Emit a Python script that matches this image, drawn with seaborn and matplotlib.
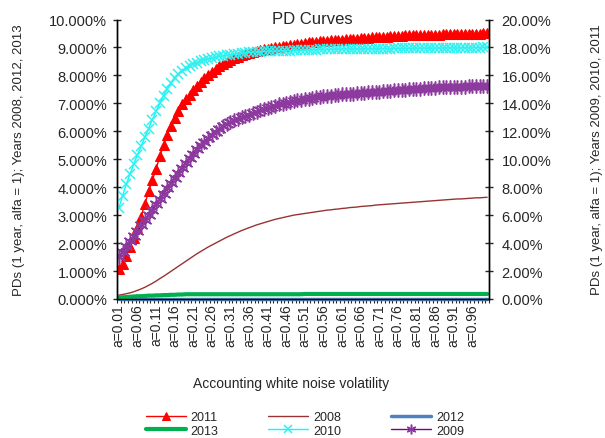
import numpy as np
import matplotlib
matplotlib.use("Agg")
import matplotlib.pyplot as plt
import seaborn as sns
from matplotlib.ticker import PercentFormatter, FixedLocator

sns.set_style("white")
plt.rcParams["font.family"] = ["Liberation Sans", "DejaVu Sans"]

# categories a=0.01 ... a=1.00
categories = ["a=%.2f" % (k / 100) for k in range(1, 101)]

# left axis series (percent)
pd_2008 = [
    0.14, 0.16, 0.19, 0.22, 0.26, 0.31, 0.36, 0.42, 0.49, 0.56,
    0.64, 0.73, 0.81, 0.90, 0.99, 1.08, 1.17, 1.26, 1.35, 1.44,
    1.53, 1.62, 1.70, 1.78, 1.86, 1.93, 2.00, 2.07, 2.14, 2.21,
    2.27, 2.33, 2.39, 2.45, 2.50, 2.55, 2.60, 2.65, 2.69, 2.73,
    2.77, 2.81, 2.85, 2.88, 2.91, 2.94, 2.97, 3.00, 3.02, 3.04,
    3.06, 3.08, 3.10, 3.12, 3.14, 3.16, 3.18, 3.19, 3.21, 3.22,
    3.24, 3.25, 3.27, 3.28, 3.29, 3.31, 3.32, 3.33, 3.34, 3.36,
    3.37, 3.38, 3.39, 3.40, 3.41, 3.42, 3.43, 3.44, 3.45, 3.46,
    3.47, 3.48, 3.49, 3.50, 3.51, 3.52, 3.53, 3.54, 3.55, 3.56,
    3.57, 3.58, 3.58, 3.59, 3.60, 3.61, 3.62, 3.62, 3.63, 3.64,
]
pd_2012 = [
    0.00, 0.00, 0.00, 0.00, 0.00, 0.00, 0.00, 0.00, 0.00, 0.00,
    0.00, 0.00, 0.00, 0.00, 0.00, 0.00, 0.00, 0.00, 0.00, 0.00,
    0.00, 0.00, 0.00, 0.00, 0.00, 0.00, 0.00, 0.00, 0.00, 0.00,
    0.00, 0.00, 0.00, 0.00, 0.00, 0.00, 0.00, 0.00, 0.00, 0.00,
    0.00, 0.00, 0.00, 0.00, 0.00, 0.00, 0.00, 0.00, 0.00, 0.00,
    0.00, 0.00, 0.00, 0.00, 0.00, 0.00, 0.00, 0.00, 0.00, 0.00,
    0.00, 0.00, 0.00, 0.00, 0.00, 0.00, 0.00, 0.00, 0.00, 0.00,
    0.00, 0.00, 0.00, 0.00, 0.00, 0.00, 0.00, 0.00, 0.00, 0.00,
    0.00, 0.00, 0.00, 0.00, 0.00, 0.00, 0.00, 0.00, 0.00, 0.00,
    0.00, 0.00, 0.00, 0.00, 0.00, 0.00, 0.00, 0.00, 0.00, 0.00,
]
pd_2013 = [
    0.05, 0.06, 0.07, 0.08, 0.09, 0.10, 0.10, 0.11, 0.12, 0.12,
    0.13, 0.13, 0.14, 0.14, 0.15, 0.15, 0.16, 0.16, 0.17, 0.17,
    0.17, 0.17, 0.17, 0.17, 0.17, 0.17, 0.17, 0.17, 0.17, 0.17,
    0.17, 0.17, 0.17, 0.17, 0.17, 0.17, 0.17, 0.17, 0.17, 0.17,
    0.17, 0.17, 0.17, 0.17, 0.17, 0.17, 0.17, 0.17, 0.17, 0.17,
    0.18, 0.18, 0.18, 0.18, 0.18, 0.18, 0.18, 0.18, 0.18, 0.18,
    0.18, 0.18, 0.18, 0.18, 0.18, 0.18, 0.18, 0.18, 0.18, 0.18,
    0.18, 0.18, 0.18, 0.18, 0.18, 0.18, 0.18, 0.18, 0.18, 0.18,
    0.18, 0.18, 0.18, 0.18, 0.18, 0.18, 0.18, 0.18, 0.18, 0.18,
    0.18, 0.18, 0.18, 0.18, 0.18, 0.18, 0.18, 0.18, 0.18, 0.18,
]

# right axis series (percent)
pd_2011 = [
    2.14, 2.50, 3.10, 3.70, 4.40, 5.10, 5.90, 6.80, 7.70, 8.50,
    9.30, 10.20, 11.00, 11.76, 12.36, 12.96, 13.48, 13.92, 14.28, 14.60,
    14.92, 15.24, 15.54, 15.80, 16.04, 16.26, 16.46, 16.64, 16.80, 16.96,
    17.10, 17.22, 17.34, 17.44, 17.54, 17.62, 17.70, 17.76, 17.82, 17.88,
    17.92, 17.96, 18.00, 18.04, 18.08, 18.12, 18.16, 18.20, 18.24, 18.28,
    18.32, 18.36, 18.40, 18.42, 18.44, 18.46, 18.48, 18.50, 18.52, 18.54,
    18.56, 18.58, 18.60, 18.62, 18.64, 18.66, 18.68, 18.70, 18.72, 18.74,
    18.76, 18.76, 18.78, 18.80, 18.82, 18.82, 18.84, 18.86, 18.86, 18.88,
    18.88, 18.90, 18.90, 18.90, 18.92, 18.92, 18.92, 18.94, 18.94, 18.94,
    18.96, 18.96, 18.96, 18.96, 18.98, 18.98, 18.98, 18.98, 19.00, 19.00,
]
pd_2010 = [
    6.50, 7.40, 8.20, 8.94, 9.66, 10.32, 10.96, 11.58, 12.20, 12.84,
    13.44, 14.00, 14.54, 15.04, 15.44, 15.80, 16.08, 16.30, 16.50, 16.66,
    16.80, 16.92, 17.02, 17.10, 17.18, 17.24, 17.30, 17.36, 17.40, 17.44,
    17.48, 17.52, 17.56, 17.58, 17.62, 17.64, 17.66, 17.68, 17.70, 17.72,
    17.72, 17.74, 17.74, 17.76, 17.76, 17.78, 17.78, 17.80, 17.80, 17.82,
    17.82, 17.84, 17.84, 17.84, 17.86, 17.86, 17.86, 17.88, 17.88, 17.88,
    17.90, 17.90, 17.90, 17.90, 17.90, 17.90, 17.91, 17.91, 17.91, 17.91,
    17.92, 17.92, 17.92, 17.92, 17.93, 17.93, 17.93, 17.93, 17.94, 17.94,
    17.95, 17.95, 17.95, 17.95, 17.96, 17.96, 17.96, 17.96, 17.97, 17.97,
    17.97, 17.97, 17.98, 17.98, 17.98, 17.99, 17.99, 17.99, 18.00, 18.00,
]
pd_2009 = [
    3.00, 3.38, 3.76, 4.14, 4.54, 4.90, 5.28, 5.64, 6.02, 6.40,
    6.78, 7.16, 7.54, 7.92, 8.30, 8.68, 9.04, 9.40, 9.74, 10.06,
    10.38, 10.70, 11.00, 11.26, 11.52, 11.76, 11.98, 12.18, 12.36, 12.52,
    12.66, 12.78, 12.90, 13.00, 13.10, 13.20, 13.30, 13.40, 13.50, 13.60,
    13.68, 13.76, 13.84, 13.92, 13.98, 14.04, 14.10, 14.16, 14.22, 14.26,
    14.30, 14.34, 14.38, 14.42, 14.46, 14.50, 14.54, 14.56, 14.60, 14.62,
    14.64, 14.66, 14.68, 14.70, 14.72, 14.74, 14.76, 14.78, 14.80, 14.82,
    14.84, 14.86, 14.88, 14.90, 14.92, 14.94, 14.96, 14.98, 15.00, 15.02,
    15.04, 15.06, 15.08, 15.10, 15.10, 15.12, 15.14, 15.14, 15.16, 15.16,
    15.18, 15.18, 15.20, 15.20, 15.22, 15.22, 15.24, 15.24, 15.26, 15.26,
]

xpos = np.arange(len(categories))

fig = plt.figure(figsize=(6.05, 4.39), dpi=100)
ax = fig.add_axes([117 / 605, 1 - 300 / 439, (489 - 117) / 605, (300 - 20.5) / 439])
ax2 = ax.twinx()

# left axis: 2008, 2012, 2013
sns.lineplot(x=xpos, y=pd_2012, ax=ax, color="#4F81BD", linewidth=2.5, label="2012", clip_on=False)
sns.lineplot(x=xpos, y=pd_2013, ax=ax, color="#00B050", linewidth=3, label="2013")
sns.lineplot(x=xpos, y=pd_2008, ax=ax, color="#993333", linewidth=1, label="2008")

# right axis: 2009, 2010, 2011
sns.lineplot(x=xpos, y=pd_2011, ax=ax2, color="#FF0000", linewidth=1, marker="^",
             markersize=7.5, markeredgecolor="#FF0000", label="2011")
sns.lineplot(x=xpos, y=pd_2010, ax=ax2, color="#00FFFF", linewidth=1, marker="x",
             markersize=7.5, markeredgewidth=1.1, markeredgecolor="#30F0F0", label="2010")
sns.lineplot(x=xpos, y=pd_2009, ax=ax2, color="#800080", linewidth=1.5, marker=(6, 2, 0),
             markersize=10, markeredgewidth=1.1, markeredgecolor="#8C3A9E", label="2009")

h1, l1 = ax.get_legend_handles_labels()
h2, l2 = ax2.get_legend_handles_labels()
ax.get_legend().remove()
ax2.get_legend().remove()
hmap = dict(zip(l1 + l2, h1 + h2))

ax.set_xlim(-0.5, len(categories) - 0.5)
ax.set_ylim(0, 10)
ax2.set_ylim(0, 20)
ax.set_yticks(np.arange(0, 10.1, 1))
ax2.set_yticks(np.arange(0, 20.1, 2))
ax.yaxis.set_major_formatter(PercentFormatter(xmax=100, decimals=3))
ax2.yaxis.set_major_formatter(PercentFormatter(xmax=100, decimals=2))

ax.set_xticks(xpos[::5])
ax.set_xticklabels(categories[::5], rotation=90, fontsize=10)
ax.xaxis.set_minor_locator(FixedLocator(np.arange(-0.5, len(categories), 1)))
ax.tick_params(axis="x", which="major", length=0, pad=3)
ax.tick_params(axis="x", which="minor", length=3, width=0.8, direction="out", bottom=True)
ax.tick_params(axis="y", direction="inout", length=6, width=1, labelsize=10.5, pad=4)
ax2.tick_params(axis="y", direction="inout", length=6, width=1, labelsize=10.5, pad=6)
ax.set_xlabel("")
ax.set_ylabel("")
ax2.set_ylabel("")

for a in (ax, ax2):
    a.spines["top"].set_visible(False)
    for s in ("left", "right", "bottom"):
        a.spines[s].set_color("black")
        a.spines[s].set_linewidth(1)
ax2.spines["bottom"].set_visible(False)
ax.grid(False)
ax2.grid(False)

fig.text(312 / 605, 1 - 20 / 439, "PD Curves", ha="center", va="center", fontsize=12)
fig.text(291 / 605, 1 - 384 / 439, "Accounting white noise volatility",
         ha="center", va="center", fontsize=10)
fig.text(19 / 605, 1 - 160 / 439, "PDs (1 year, alfa = 1); Years 2008, 2012, 2013",
         rotation=90, ha="center", va="center", fontsize=9.5)
fig.text(597 / 605, 1 - 160 / 439, "PDs (1 year, alfa = 1); Years 2009, 2010, 2011",
         rotation=90, ha="center", va="center", fontsize=9.5)

order = ["2011", "2013", "2008", "2010", "2012", "2009"]
leg = fig.legend([hmap[k] for k in order], order, loc="center", ncol=3,
                 bbox_to_anchor=(305 / 605, 1 - 425 / 439), frameon=False, fontsize=9,
                 handlelength=3.2, handletextpad=0.4, columnspacing=4.0, labelspacing=0.1,
                 borderpad=0, markerscale=0.7)
for line in leg.get_lines():
    if line.get_label() in ("2011", "2010", "2009"):
        line.set_linewidth(1)

fig.savefig("out.png", dpi=100)
